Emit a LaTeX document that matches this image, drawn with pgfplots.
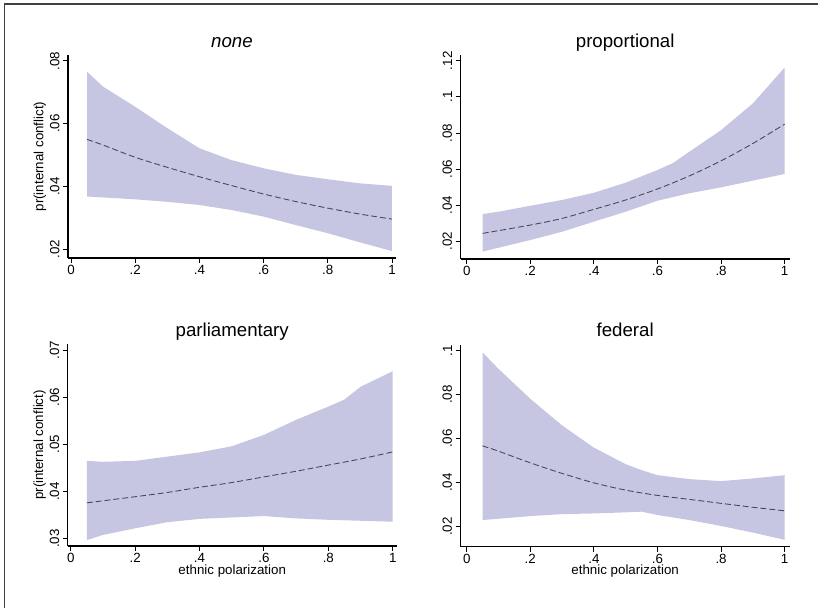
\documentclass[border=0pt]{standalone}
\usepackage{fontspec}
\setmainfont{Liberation Sans}
\usepackage{pgfplots}
\pgfplotsset{compat=1.18}

\definecolor{band}{RGB}{198,198,226}
\definecolor{meanline}{RGB}{70,70,80}

\pgfplotsset{
  stata/.style={
    scale only axis,
    axis x line=bottom, axis y line=left,
    axis line style={-, line width=0.8pt},
    tick align=outside,
    major tick length=3.75pt,
    tick style={black, line width=0.7pt},
    xmin=-0.0093, xmax=1.0125,
    xtick={0,0.2,0.4,0.6,0.8,1},
    xticklabels={0,.2,.4,.6,.8,1},
    scaled ticks=false,
    ticklabel style={font=\fontsize{10}{12}\selectfont},
    xticklabel style={inner sep=1.5pt},
    yticklabel style={inner sep=2.5pt, rotate=90, anchor=south},
    clip=false,
  },
  ci/.style={fill=band, draw=none},
  pm/.style={meanline, line width=0.65pt, dash pattern=on 4.5pt off 2.2pt, smooth},
}
\newcommand{\ttl}[1]{\node[anchor=base, font=\fontsize{14}{16}\selectfont] at (rel axis cs:0.5,1) [yshift=6pt] {#1};}
\newcommand{\ylab}{\node[xshift=-21pt, rotate=90, font=\fontsize{10}{12}\selectfont] at (rel axis cs:0,0.5) {pr(internal conflict)};}
\newcommand{\xlab}{\node[yshift=-18.5pt, font=\fontsize{10}{12}\selectfont] at (rel axis cs:0.5,0) {ethnic polarization};}

\begin{document}
\begin{tikzpicture}
\useasboundingbox (0,0) rectangle (613.5pt,-456pt);
\draw[line width=1pt, black!75] (3.4pt,-456pt) -- (3.4pt,-3pt) -- (613.5pt,-3pt);

% none
\begin{axis}[stata, at={(51pt,-193.5pt)}, anchor=south west,
  width=246pt, height=152.25pt,
  ymin=0.0172, ymax=0.0819,
  ytick={0.02,0.04,0.06,0.08}, yticklabels={.02,.04,.06,.08}]
\addplot[ci] coordinates {
 (0.05,0.0766) (0.1,0.0718) (0.2,0.0654) (0.3,0.0586) (0.4,0.0522) (0.5,0.0484)
 (0.6,0.0458) (0.7,0.0437) (0.8,0.0423) (0.9,0.0410) (1.0,0.0402)
 (1.0,0.0194) (0.9,0.0222) (0.8,0.0251) (0.7,0.0277) (0.6,0.0304) (0.5,0.0325)
 (0.4,0.0341) (0.3,0.0351) (0.2,0.0359) (0.05,0.0368)} -- cycle;
\addplot[pm] coordinates {
 (0.05,0.0550) (0.1,0.0532) (0.2,0.0493) (0.3,0.0461) (0.4,0.0431) (0.5,0.0403)
 (0.6,0.0376) (0.7,0.0352) (0.8,0.0331) (0.9,0.0312) (1.0,0.0296)};
\ttl{\itshape none}
\ylab
\end{axis}

% proportional
\begin{axis}[stata, at={(345.5pt,-194.25pt)}, anchor=south west,
  width=246.75pt, height=153pt,
  xmin=-0.019, xmax=1.0157,
  ymin=0.0102, ymax=0.1232,
  ytick={0.02,0.04,0.06,0.08,0.1,0.12}, yticklabels={.02,.04,.06,.08,.1,.12}]
\addplot[ci] coordinates {
 (0.05,0.0351) (0.1,0.0364) (0.2,0.0397) (0.3,0.0429) (0.4,0.0469) (0.5,0.0525)
 (0.6,0.0595) (0.65,0.0635) (0.7,0.0696) (0.8,0.0816) (0.9,0.0964) (1.0,0.1163)
 (1.0,0.0573) (0.9,0.0536) (0.8,0.0499) (0.7,0.0466) (0.6,0.0425) (0.5,0.0364)
 (0.4,0.0309) (0.3,0.0253) (0.2,0.0207) (0.05,0.0143)} -- cycle;
\addplot[pm] coordinates {
 (0.05,0.0244) (0.2,0.0290) (0.3,0.0327) (0.4,0.0377) (0.5,0.0429)
 (0.6,0.0490) (0.7,0.0562) (0.8,0.0646) (0.9,0.0742) (1.0,0.0849)};
\ttl{proportional}
\end{axis}

% parliamentary
\begin{axis}[stata, at={(50.8pt,-409.5pt)}, anchor=south west,
  width=246.75pt, height=151.5pt,
  ymin=0.02845, ymax=0.07127,
  ytick={0.03,0.04,0.05,0.06,0.07}, yticklabels={.03,.04,.05,.06,.07}]
\addplot[ci] coordinates {
 (0.05,0.0465) (0.1,0.0463) (0.2,0.0465) (0.3,0.0474) (0.4,0.0483) (0.5,0.0496)
 (0.6,0.0520) (0.7,0.0552) (0.75,0.0566) (0.8,0.0580) (0.85,0.0595) (0.9,0.0622) (1.0,0.0655)
 (1.0,0.0336) (0.9,0.0338) (0.8,0.0340) (0.7,0.0343) (0.6,0.0348) (0.5,0.0345)
 (0.4,0.0342) (0.3,0.0335) (0.2,0.0322) (0.1,0.0308) (0.05,0.0297)} -- cycle;
\addplot[pm] coordinates {
 (0.05,0.0376) (0.2,0.0389) (0.3,0.0398) (0.4,0.0409) (0.5,0.0419)
 (0.6,0.0431) (0.7,0.0443) (0.8,0.0456) (0.9,0.0469) (1.0,0.0484)};
\ttl{parliamentary}
\ylab
\xlab
\end{axis}

% federal
\begin{axis}[stata, at={(345.5pt,-410pt)}, anchor=south west,
  width=246.75pt, height=151.5pt,
  xmin=-0.019, xmax=1.0157,
  ymin=0.0109, ymax=0.1027,
  ytick={0.02,0.04,0.06,0.08,0.1}, yticklabels={.02,.04,.06,.08,.1}]
\addplot[ci] coordinates {
 (0.05,0.0992) (0.1,0.0917) (0.2,0.0781) (0.3,0.0660) (0.4,0.0559) (0.5,0.0484)
 (0.55,0.0457) (0.6,0.0434) (0.7,0.0416) (0.8,0.0407) (0.9,0.0419) (1.0,0.0434)
 (1.0,0.0140) (0.9,0.0173) (0.8,0.0203) (0.7,0.0230) (0.6,0.0253) (0.55,0.0268)
 (0.5,0.0265) (0.4,0.0260) (0.3,0.0257) (0.2,0.0248) (0.05,0.0230)} -- cycle;
\addplot[pm] coordinates {
 (0.05,0.0567) (0.1,0.0543) (0.2,0.0490) (0.3,0.0442) (0.4,0.0399) (0.5,0.0366)
 (0.6,0.0342) (0.7,0.0324) (0.8,0.0306) (0.9,0.0288) (1.0,0.0272)};
\ttl{federal}
\xlab
\end{axis}
\end{tikzpicture}
\end{document}
